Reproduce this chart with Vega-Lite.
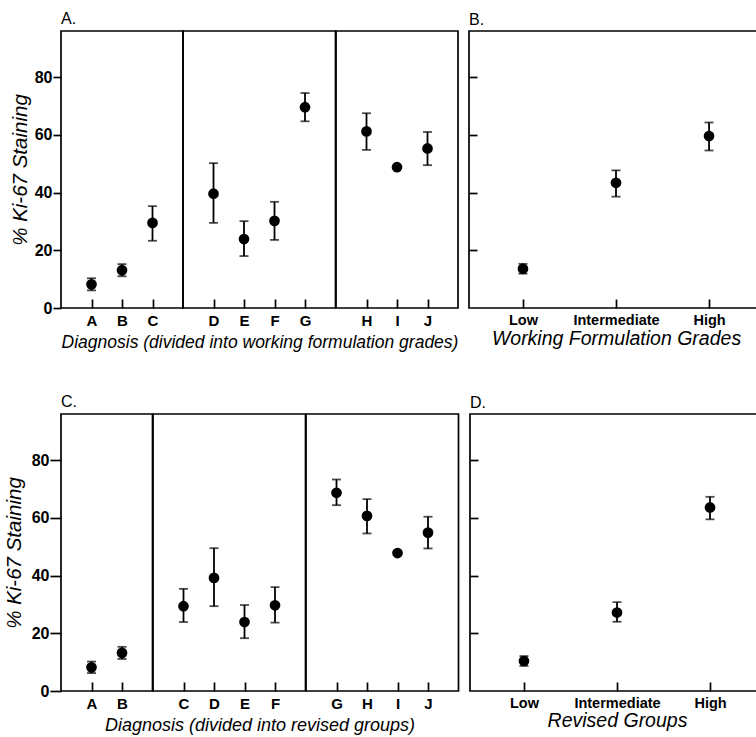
{
  "$schema": "https://vega.github.io/schema/vega-lite/v6.json",
  "background": "white",
  "padding": {"left": 4, "top": 11, "right": 0, "bottom": 0},
  "config": {
    "view": {"stroke": "black", "strokeWidth": 1.7},
    "font": "Liberation Sans",
    "axis": {"domain": false, "grid": false, "labelFont": "Liberation Sans", "labelFontSize": 15, "labelFontWeight": "bold", "labelColor": "black", "tickColor": "black", "tickWidth": 1.7, "titleFont": "Liberation Sans", "titleFontStyle": "italic", "titleFontWeight": "normal", "titleFontSize": 18, "titleColor": "black"},
    "title": {"font": "Liberation Sans", "fontSize": 16, "fontWeight": "normal", "color": "black", "anchor": "start", "frame": "group", "offset": 3}
  },
  "datasets": {
    "wf": [
      {"grp": 1, "diag": "A", "mean": 8.2, "lo": 6.1, "hi": 10.3},
      {"grp": 1, "diag": "B", "mean": 13.1, "lo": 11.0, "hi": 15.2},
      {"grp": 1, "diag": "C", "mean": 29.5, "lo": 23.3, "hi": 35.3},
      {"grp": 2, "diag": "D", "mean": 39.6, "lo": 29.5, "hi": 50.2},
      {"grp": 2, "diag": "E", "mean": 23.9, "lo": 18.0, "hi": 30.1},
      {"grp": 2, "diag": "F", "mean": 30.2, "lo": 23.6, "hi": 36.8},
      {"grp": 2, "diag": "G", "mean": 69.6, "lo": 64.7, "hi": 74.5},
      {"grp": 3, "diag": "H", "mean": 61.2, "lo": 54.8, "hi": 67.5},
      {"grp": 3, "diag": "I", "mean": 48.8, "lo": null, "hi": null},
      {"grp": 3, "diag": "J", "mean": 55.3, "lo": 49.5, "hi": 61.0}
    ],
    "rv": [
      {"grp": 1, "diag": "A", "mean": 8.2, "lo": 6.2, "hi": 10.2},
      {"grp": 1, "diag": "B", "mean": 13.2, "lo": 11.1, "hi": 15.3},
      {"grp": 2, "diag": "C", "mean": 29.4, "lo": 23.9, "hi": 35.4},
      {"grp": 2, "diag": "D", "mean": 39.2, "lo": 29.4, "hi": 49.5},
      {"grp": 2, "diag": "E", "mean": 23.9, "lo": 18.3, "hi": 29.8},
      {"grp": 2, "diag": "F", "mean": 29.7, "lo": 23.7, "hi": 36.0},
      {"grp": 3, "diag": "G", "mean": 68.7, "lo": 64.4, "hi": 73.3},
      {"grp": 3, "diag": "H", "mean": 60.7, "lo": 54.6, "hi": 66.5},
      {"grp": 3, "diag": "I", "mean": 47.8, "lo": null, "hi": null},
      {"grp": 3, "diag": "J", "mean": 54.9, "lo": 49.4, "hi": 60.4}
    ],
    "wfg": [
      {"grade": "Low", "mean": 13.6, "lo": 11.9, "hi": 15.3},
      {"grade": "Intermediate", "mean": 43.4, "lo": 38.6, "hi": 47.7},
      {"grade": "High", "mean": 59.6, "lo": 54.6, "hi": 64.3}
    ],
    "rvg": [
      {"grade": "Low", "mean": 10.4, "lo": 8.7, "hi": 12.1},
      {"grade": "Intermediate", "mean": 27.2, "lo": 24.0, "hi": 30.8},
      {"grade": "High", "mean": 63.6, "lo": 59.5, "hi": 67.3}
    ]
  },
  "spacing": 42,
  "resolve": {"scale": {"x": "independent", "y": "independent"}},
  "vconcat": [
    {
      "spacing": 8,
      "resolve": {"scale": {"x": "independent", "y": "independent"}},
      "hconcat": [
        {
          "title": {"text": "A."},
          "data": {"name": "wf"},
          "bounds": "flush",
          "facet": {"column": {"field": "grp", "type": "ordinal", "header": {"labels": false, "title": "Diagnosis (divided into working formulation grades)", "titleOrient": "bottom", "titleFont": "Liberation Sans", "titleFontSize": 17.5, "titleFontStyle": "italic", "titleFontWeight": "normal", "titleColor": "black", "titlePadding": 16}}},
          "spacing": {"column": 0},
          "resolve": {"scale": {"x": "independent"}},
          "spec": {
            "width": {"step": 30.5},
            "height": 277,
            "encoding": {
              "x": {"field": "diag", "type": "nominal", "scale": {"type": "point", "padding": 1}, "axis": {"title": null, "labelAngle": 0, "tickSize": -9, "labelPadding": 14}}
            },
            "layer": [
              {"transform": [{"filter": "datum.lo != null"}], "mark": {"type": "rule", "color": "black", "strokeWidth": 1.8}, "encoding": {"y": {"field": "lo", "type": "quantitative", "scale": {"domain": [0, 96], "nice": false}, "axis": {"title": "% Ki-67 Staining", "titleFontSize": 20.5, "values": [0, 20, 40, 60, 80], "labelFontSize": 16, "tickSize": 8, "labelPadding": 1, "titlePadding": 4}}, "y2": {"field": "hi"}}},
              {"transform": [{"filter": "datum.lo != null"}], "mark": {"type": "tick", "color": "black", "size": 9, "thickness": 1.8, "orient": "horizontal"}, "encoding": {"y": {"field": "lo", "type": "quantitative"}}},
              {"transform": [{"filter": "datum.lo != null"}], "mark": {"type": "tick", "color": "black", "size": 9, "thickness": 1.8, "orient": "horizontal"}, "encoding": {"y": {"field": "hi", "type": "quantitative"}}},
              {"mark": {"type": "circle", "color": "black", "opacity": 1, "size": 115}, "encoding": {"y": {"field": "mean", "type": "quantitative"}}}
            ]
          }
        },
        {
          "title": {"text": "B."},
          "data": {"name": "wfg"},
          "width": 294,
          "height": 277,
          "encoding": {
            "x": {"field": "grade", "type": "nominal", "sort": ["Low", "Intermediate", "High"], "scale": {"type": "point", "padding": 0.58}, "axis": {"title": "Working Formulation Grades", "titleFontSize": 19.5, "labelAngle": 0, "labelFontSize": 14.5, "tickSize": -9, "labelPadding": 14, "titlePadding": 3}}
          },
          "layer": [
            {"mark": {"type": "rule", "color": "black", "strokeWidth": 1.8}, "encoding": {"y": {"field": "lo", "type": "quantitative", "scale": {"domain": [0, 96], "nice": false}, "axis": {"title": null, "labels": false, "values": [20, 40, 60, 80], "tickSize": -8}}, "y2": {"field": "hi"}}},
            {"mark": {"type": "tick", "color": "black", "size": 9, "thickness": 1.8, "orient": "horizontal"}, "encoding": {"y": {"field": "lo", "type": "quantitative"}}},
            {"mark": {"type": "tick", "color": "black", "size": 9, "thickness": 1.8, "orient": "horizontal"}, "encoding": {"y": {"field": "hi", "type": "quantitative"}}},
            {"mark": {"type": "circle", "color": "black", "opacity": 1, "size": 115}, "encoding": {"y": {"field": "mean", "type": "quantitative"}}}
          ]
        }
      ]
    },
    {
      "spacing": 8,
      "resolve": {"scale": {"x": "independent", "y": "independent"}},
      "hconcat": [
        {
          "title": {"text": "C."},
          "data": {"name": "rv"},
          "bounds": "flush",
          "facet": {"column": {"field": "grp", "type": "ordinal", "header": {"labels": false, "title": "Diagnosis (divided into revised groups)", "titleOrient": "bottom", "titleFont": "Liberation Sans", "titleFontSize": 18, "titleFontStyle": "italic", "titleFontWeight": "normal", "titleColor": "black", "titlePadding": 16}}},
          "spacing": {"column": 0},
          "resolve": {"scale": {"x": "independent"}},
          "spec": {
            "width": {"step": 30.5},
            "height": 277,
            "encoding": {
              "x": {"field": "diag", "type": "nominal", "scale": {"type": "point", "padding": 1}, "axis": {"title": null, "labelAngle": 0, "tickSize": -9, "labelPadding": 14}}
            },
            "layer": [
              {"transform": [{"filter": "datum.lo != null"}], "mark": {"type": "rule", "color": "black", "strokeWidth": 1.8}, "encoding": {"y": {"field": "lo", "type": "quantitative", "scale": {"domain": [0, 96], "nice": false}, "axis": {"title": "% Ki-67 Staining", "titleFontSize": 20.5, "values": [0, 20, 40, 60, 80], "labelFontSize": 16, "tickSize": 11, "labelPadding": 1, "titlePadding": 7}}, "y2": {"field": "hi"}}},
              {"transform": [{"filter": "datum.lo != null"}], "mark": {"type": "tick", "color": "black", "size": 9, "thickness": 1.8, "orient": "horizontal"}, "encoding": {"y": {"field": "lo", "type": "quantitative"}}},
              {"transform": [{"filter": "datum.lo != null"}], "mark": {"type": "tick", "color": "black", "size": 9, "thickness": 1.8, "orient": "horizontal"}, "encoding": {"y": {"field": "hi", "type": "quantitative"}}},
              {"mark": {"type": "circle", "color": "black", "opacity": 1, "size": 115}, "encoding": {"y": {"field": "mean", "type": "quantitative"}}}
            ]
          }
        },
        {
          "title": {"text": "D."},
          "data": {"name": "rvg"},
          "width": 294,
          "height": 277,
          "encoding": {
            "x": {"field": "grade", "type": "nominal", "sort": ["Low", "Intermediate", "High"], "scale": {"type": "point", "padding": 0.58}, "axis": {"title": "Revised Groups", "titleFontSize": 19.5, "labelAngle": 0, "labelFontSize": 14.5, "tickSize": -9, "labelPadding": 14, "titlePadding": 2}}
          },
          "layer": [
            {"mark": {"type": "rule", "color": "black", "strokeWidth": 1.8}, "encoding": {"y": {"field": "lo", "type": "quantitative", "scale": {"domain": [0, 96], "nice": false}, "axis": {"title": null, "labels": false, "values": [20, 40, 60, 80], "tickSize": -8}}, "y2": {"field": "hi"}}},
            {"mark": {"type": "tick", "color": "black", "size": 9, "thickness": 1.8, "orient": "horizontal"}, "encoding": {"y": {"field": "lo", "type": "quantitative"}}},
            {"mark": {"type": "tick", "color": "black", "size": 9, "thickness": 1.8, "orient": "horizontal"}, "encoding": {"y": {"field": "hi", "type": "quantitative"}}},
            {"mark": {"type": "circle", "color": "black", "opacity": 1, "size": 115}, "encoding": {"y": {"field": "mean", "type": "quantitative"}}}
          ]
        }
      ]
    }
  ]
}
